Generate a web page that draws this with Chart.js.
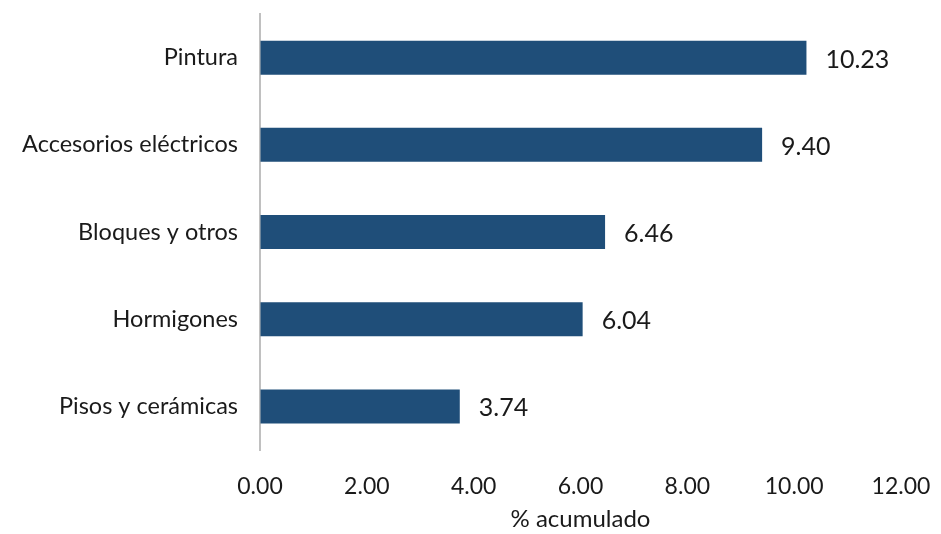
<!DOCTYPE html>
<html>
<head>
<meta charset="utf-8">
<script src="https://cdn.jsdelivr.net/npm/chart.js@4/dist/chart.umd.min.js"></script>
<style>
  html, body { margin: 0; padding: 0; background: #fff; }
  #wrap { width: 941px; height: 534px; }
</style>
</head>
<body>
<div id="wrap"><canvas id="canvasMateriales"></canvas></div>
<script>
var categorias = ['Pintura', 'Accesorios eléctricos', 'Bloques y otros', 'Hormigones', 'Pisos y cerámicas'];
var porcentajes = [10.23, 9.40, 6.46, 6.04, 3.74];
var ticksX = [0, 2, 4, 6, 8, 10, 12];

var fuente = 'Lato, "Open Sans", sans-serif';
var colorTexto = '#1a1a1a';

// etiquetas de valor al final de cada barra
var etiquetasValor = {
    id: 'etiquetasValor',
    afterDatasetsDraw: function (chart) {
        var ctx = chart.ctx;
        var meta = chart.getDatasetMeta(0);
        ctx.save();
        ctx.font = '25px ' + fuente;
        ctx.fillStyle = colorTexto;
        ctx.textAlign = 'left';
        ctx.textBaseline = 'middle';
        meta.data.forEach(function (bar, i) {
            ctx.fillText(porcentajes[i].toFixed(2), bar.x + 19, bar.y + 2);
        });
        ctx.restore();
    }
};

var ctx = document.getElementById('canvasMateriales').getContext('2d');
var chartMateriales = new Chart(ctx, {
    type: 'bar',
    data: {
        labels: categorias,
        datasets: [{
            label: '% acumulado',
            data: porcentajes,
            backgroundColor: '#1f4e79',
            borderWidth: 0,
            barPercentage: 0.39,
            categoryPercentage: 1
        }]
    },
    options: {
        indexAxis: 'y',
        responsive: true,
        maintainAspectRatio: false,
        animation: false,
        layout: { padding: { top: 13, right: 40, left: 0, bottom: 0 } },
        plugins: {
            legend: { display: false },
            tooltip: { enabled: false }
        },
        scales: {
            x: {
                min: 0,
                max: 12,
                afterBuildTicks: function (scale) {
                    scale.ticks = ticksX.map(function (v) { return { value: v }; });
                },
                afterFit: function (scale) { scale.height = 84; },
                grid: { display: true, drawOnChartArea: false, drawTicks: true, tickLength: 23, tickColor: 'rgba(0,0,0,0)', color: 'rgba(0,0,0,0)' },
                border: { display: false },
                ticks: {
                    padding: 0,
                    color: colorTexto,
                    font: { family: fuente, size: 23 },
                    callback: function (v) { return Number(v).toFixed(2); }
                },
                title: {
                    display: true,
                    text: '% acumulado',
                    color: colorTexto,
                    font: { family: fuente, size: 24 },
                    padding: { top: 0, bottom: 0 }
                }
            },
            y: {
                afterFit: function (scale) { scale.width = 260; },
                grid: { display: true, drawOnChartArea: false, drawTicks: true, tickLength: 22, tickColor: 'rgba(0,0,0,0)', color: 'rgba(0,0,0,0)' },
                border: { display: true, color: '#c0c0c0', width: 2 },
                ticks: {
                    padding: 0,
                    color: colorTexto,
                    font: { family: fuente, size: 23.5 }
                }
            }
        }
    },
    plugins: [etiquetasValor]
});
</script>
</body>
</html>
